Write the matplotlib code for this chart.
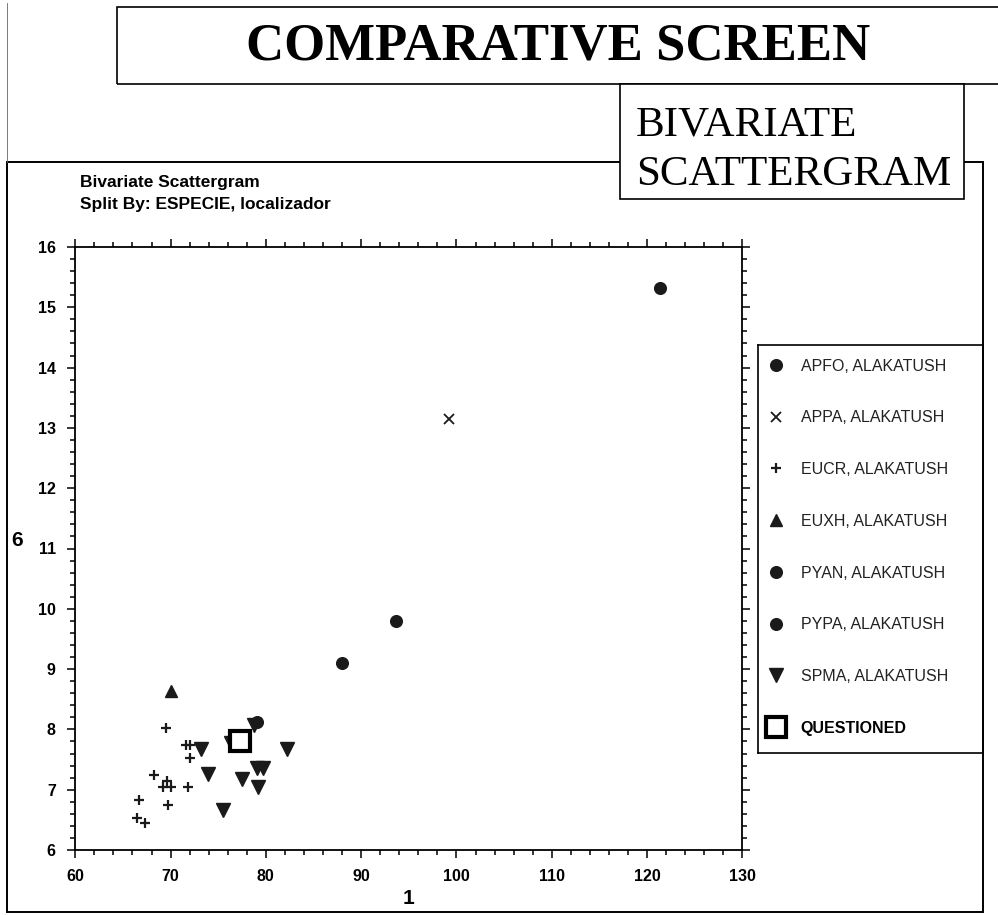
import matplotlib
matplotlib.use("Agg")
import matplotlib.pyplot as plt
from matplotlib.patches import Rectangle
from matplotlib.lines import Line2D
from matplotlib.ticker import MultipleLocator

# values (x = variable 1, y = variable 6)
apfo_x = [121.4]
apfo_y = [15.32]
appa_x = [99.2]
appa_y = [13.15]
eucr_x = [69.5, 71.6, 72.0, 72.0, 68.3, 69.6, 69.2, 70.0, 71.8, 69.7, 66.7, 66.5, 67.3]
eucr_y = [8.02, 7.74, 7.74, 7.53, 7.24, 7.15, 7.04, 7.04, 7.04, 6.74, 6.83, 6.53, 6.44]
euxh_x = [70.0]
euxh_y = [8.63]
pyan_x = [93.7, 88.0]
pyan_y = [9.80, 9.10]
pypa_x = [79.1]
pypa_y = [8.12]
spma_x = [73.2, 73.9, 75.5, 77.5, 79.1, 79.7, 79.2, 82.2, 76.3, 78.8]
spma_y = [7.67, 7.26, 6.66, 7.18, 7.36, 7.36, 7.05, 7.67, 7.77, 8.07]
quest_x = [77.3]
quest_y = [7.81]

labels = ["APFO, ALAKATUSH", "APPA, ALAKATUSH", "EUCR, ALAKATUSH", "EUXH, ALAKATUSH",
          "PYAN, ALAKATUSH", "PYPA, ALAKATUSH", "SPMA, ALAKATUSH", "QUESTIONED"]

W, H = 998, 915


def fx(px):
    return px / W


def fy(py):
    return 1 - py / H


fig = plt.figure(figsize=(W / 100, H / 100), dpi=100)
fig.patch.set_facecolor("white")

sans = ["Liberation Sans", "DejaVu Sans"]
serif = ["Liberation Serif", "DejaVu Serif"]

# frames around the page
frame = Rectangle((fx(7), fy(912)), fx(983) - fx(7), fy(162) - fy(912),
                  transform=fig.transFigure, fill=False, lw=1.4, ec="black", zorder=1)
fig.add_artist(frame)
fig.add_artist(Line2D([fx(7), fx(7)], [fy(3), fy(162)], transform=fig.transFigure,
                      lw=0.6, color="#666666", zorder=1))
top_box = Rectangle((fx(117), fy(84)), fx(1005) - fx(117), fy(7) - fy(84),
                    transform=fig.transFigure, fill=False, lw=1.2, ec="black", zorder=2)
fig.add_artist(top_box)
sub_box = Rectangle((fx(620), fy(199)), fx(964) - fx(620), fy(84) - fy(199),
                    transform=fig.transFigure, fc="white", lw=1.2, ec="black", zorder=3)
fig.add_artist(sub_box)

fig.text(fx(558), fy(47), "COMPARATIVE SCREEN", family=serif, weight="bold",
         fontsize=38, ha="center", va="center", zorder=4)
fig.text(fx(636), fy(135), "BIVARIATE", family=serif, fontsize=31,
         ha="left", va="baseline", zorder=4)
fig.text(fx(636), fy(185), "SCATTERGRAM", family=serif, fontsize=31,
         ha="left", va="baseline", zorder=4)

fig.text(fx(80), fy(183), "Bivariate Scattergram", family=sans, weight="bold",
         fontsize=12.5, ha="left", va="center")
fig.text(fx(80), fy(204), "Split By: ESPECIE, localizador", family=sans, weight="bold",
         fontsize=12.5, ha="left", va="center")

# scatter axes
ax = fig.add_axes([fx(75.3), fy(850), fx(742.3) - fx(75.3), fy(247) - fy(850)])
ax.set_xlim(60, 130)
ax.set_ylim(6, 16)
ax.xaxis.set_major_locator(MultipleLocator(10))
ax.xaxis.set_minor_locator(MultipleLocator(2))
ax.yaxis.set_major_locator(MultipleLocator(1))
ax.yaxis.set_minor_locator(MultipleLocator(0.2))
ax.tick_params(which="both", direction="out", top=True, right=True,
               labeltop=False, labelright=False, width=1.1, color="black")
ax.tick_params(which="major", length=6)
ax.tick_params(which="minor", length=3.5)
ax.tick_params(axis="x", pad=8)
ax.tick_params(axis="y", pad=8)
for lab in ax.get_xticklabels() + ax.get_yticklabels():
    lab.set_family(sans)
    lab.set_fontweight("bold")
    lab.set_fontsize(11.5)
for sp in ax.spines.values():
    sp.set_linewidth(1.3)

h1, = ax.plot(apfo_x, apfo_y, "o", color="#1a1a1a", ms=8.4, ls="none")
h2, = ax.plot(appa_x, appa_y, "x", color="#1a1a1a", ms=7, mew=1.3, ls="none")
h3, = ax.plot(eucr_x, eucr_y, "+", color="#1a1a1a", ms=6.5, mew=1.6, ls="none")
h4, = ax.plot(euxh_x, euxh_y, "^", color="#1a1a1a", ms=8, ls="none")
h5, = ax.plot(pyan_x, pyan_y, "o", color="#1a1a1a", ms=8.4, ls="none")
h6, = ax.plot(pypa_x, pypa_y, "o", color="#1a1a1a", ms=8.4, ls="none")
h7, = ax.plot(spma_x, spma_y, "v", color="#1a1a1a", ms=9.5, ls="none")
h8, = ax.plot(quest_x, quest_y, "s", mfc="white", mec="black", ms=14, mew=3,
              ls="none", zorder=5)

fig.text(fx(408), fy(898), "1", family=sans, weight="bold", fontsize=15,
         ha="center", va="center")
fig.text(fx(17), fy(540), "6", family=sans, weight="bold", fontsize=15,
         ha="center", va="center")

# legend box
lax = fig.add_axes([fx(758), fy(753), fx(983) - fx(758), fy(345) - fy(753)])
lax.set_xticks([])
lax.set_yticks([])
for sp in lax.spines.values():
    sp.set_linewidth(1.2)
leg = lax.legend([h1, h2, h3, h4, h5, h6, h7, h8], labels, loc="upper left",
                 bbox_to_anchor=(0, 1), borderaxespad=0, frameon=False,
                 prop={"family": sans, "size": 11.5}, labelspacing=2.3,
                 borderpad=0.85, handlelength=0.58, handletextpad=1.25, numpoints=1)
for t in leg.get_texts():
    t.set_color("#222222")
leg.get_texts()[-1].set_fontweight("bold")
leg.get_texts()[-1].set_color("black")

fig.savefig("out.png", dpi=100, facecolor="white")
